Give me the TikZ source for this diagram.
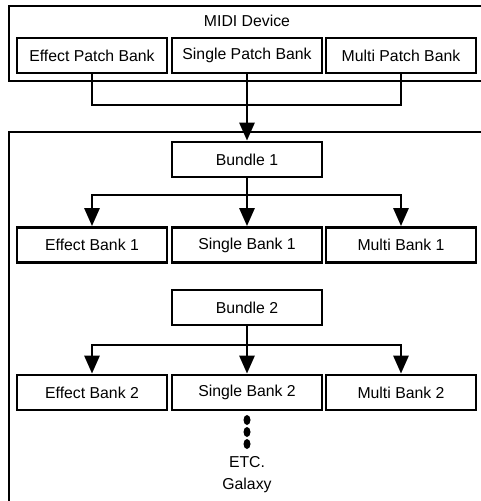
\documentclass[tikz,border=0pt]{standalone}
\usepackage{fontspec}
\setmainfont{Liberation Sans}
\usetikzlibrary{arrows.meta,shapes.geometric}

\tikzset{
  box/.style={draw,line width=2.8pt,minimum width=150pt,minimum height=35pt,inner sep=0pt,
    font=\fontsize{15.8}{18}\selectfont},
  txt/.style={font=\fontsize{15.8}{18}\selectfont,inner sep=0pt},
  conn/.style={line width=2.8pt},
  arr/.style={line width=2.8pt,-{Triangle[length=18pt,width=15pt]}},
  dot/.style={fill=black,ellipse,minimum width=7pt,minimum height=10pt,inner sep=0pt}
}

\begin{document}
\begin{tikzpicture}[x=1pt,y=-1pt]
\useasboundingbox (0,0) rectangle (481,501);
\clip (0,0) rectangle (481,501);

   % outer frames, open to the right
   \draw[conn] (495,6) -| (9,81) -- (495,81);
   \draw[conn] (495,132) -| (9,510);
   \node[txt] at (247,21) (midi) {MIDI Device};

   \node[box] at (92,55.5)  (epb) {Effect Patch Bank};
   \node[box] at (247,55.5) (spb) {Single Patch Bank};
   \node[box] at (401,55.5) (mpb) {Multi Patch Bank};

   \node[box] at (247,159.5) (b1) {Bundle 1};
   \node[box] at (92,245)  (eb1) {Effect Bank 1};
   \node[box] at (247,245) (sb1) {Single Bank 1};
   \node[box] at (401,245) (mb1) {Multi Bank 1};

   \node[box] at (247,307.5) (b2) {Bundle 2};
   \node[box] at (92,392.5)  (eb2) {Effect Bank 2};
   \node[box] at (247,392.5) (sb2) {Single Bank 2};
   \node[box] at (401,392.5) (mb2) {Multi Bank 2};

   \coordinate (j1) at (247,105);
   \coordinate (j2) at (247,195);
   \coordinate (j3) at (247,345);

   \draw[conn] (epb.south) |- (j1) -| (mpb.south);
   \draw[arr] (spb.south) -- (b1.north);

   \draw[conn] (b1.south) -- (j2);
   \foreach \n in {eb1,sb1,mb1}
     \draw[arr] (j2) -| (\n.north);

   \draw[conn] (b2.south) -- (j3);
   \foreach \n in {eb2,sb2,mb2}
     \draw[arr] (j3) -| (\n.north);

   \node[dot] at (247,420) (d1) {};
   \node[dot] at (247,432) (d2) {};
   \node[dot] at (247,444) (d3) {};
   \node[txt] at (247,462) (etc) {ETC.};
   \node[txt] at (247,485) (galaxy) {Galaxy};

\end{tikzpicture}
\end{document}
